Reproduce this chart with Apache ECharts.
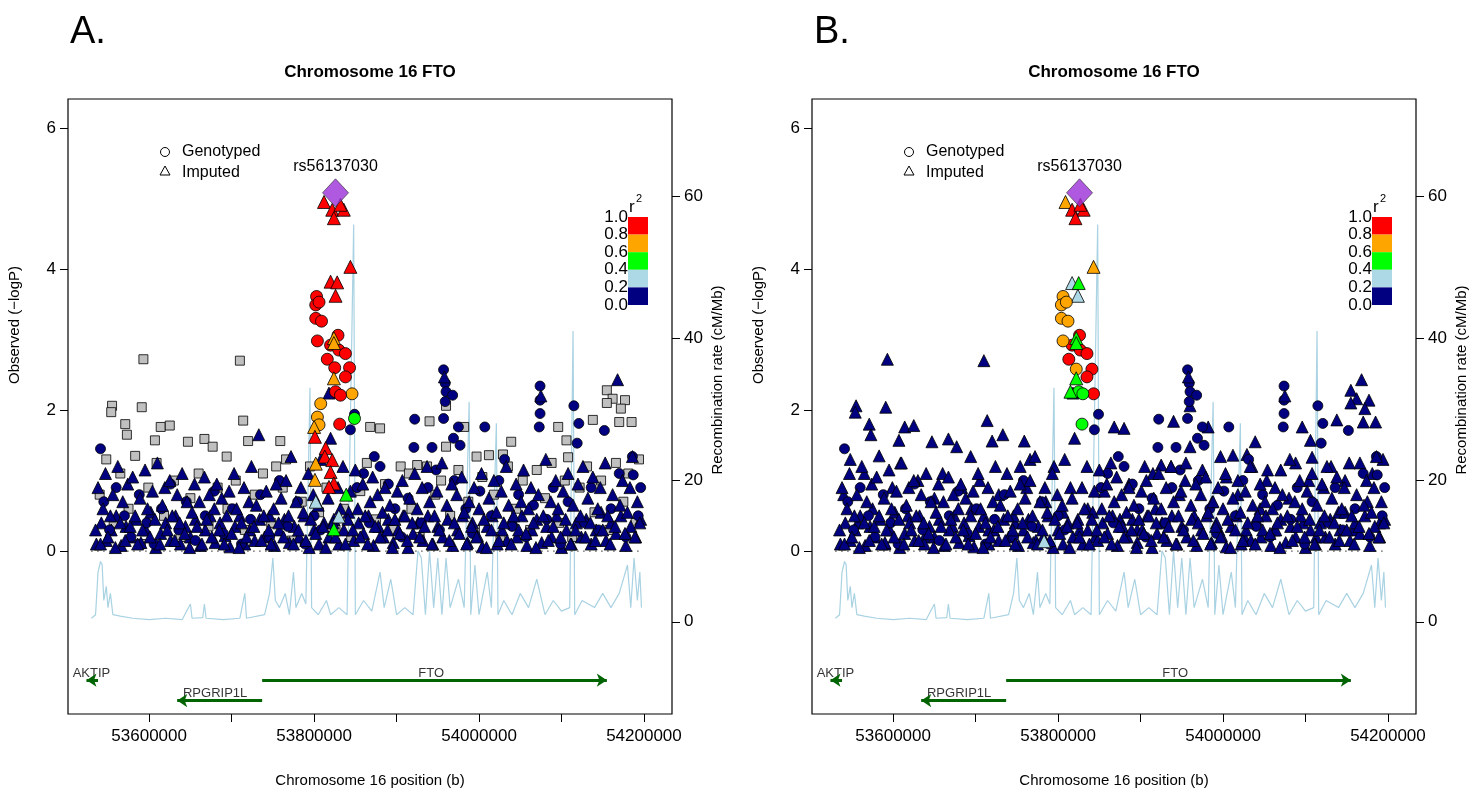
<!DOCTYPE html>
<html><head><meta charset="utf-8">
<script src="https://cdn.jsdelivr.net/npm/echarts@6/dist/echarts.min.js"></script>
<style>html,body{margin:0;padding:0;background:#fff}#c{width:1477px;height:800px}</style>
</head><body><div id="c"></div>
<script>
// positions in kb, values -log10 P
const recomb = [[53530,0.5],[53535,1],[53538,7],[53541,8.5],[53543,8],[53545,3],[53548,5],[53550,2],[53553,4],[53556,1],[53565,0.8],[53580,0.5],[53600,0.3],[53620,0.5],[53640,0.3],[53650,2.5],[53652,0.5],[53665,0.6],[53667,2.5],[53669,0.5],[53690,0.3],[53710,0.5],[53716,4],[53718,0.5],[53740,1],[53746,4],[53750,9],[53753,3],[53758,2],[53765,4],[53770,1],[53775,7],[53778,2],[53785,4],[53790,2.5],[53795,33],[53797,2],[53805,1],[53815,3],[53820,1],[53830,2],[53840,1],[53848,56],[53850,1],[53860,3],[53870,1.5],[53880,7],[53885,2],[53893,6],[53900,1],[53910,2],[53920,1],[53926,10],[53930,9],[53935,1],[53940,10],[53945,2],[53950,9],[53955,1],[53960,9],[53965,2],[53975,6],[53982,2],[53988,31],[53990,1],[53995,8],[54000,1],[54010,7],[54015,2],[54021,28],[54023,1],[54030,3],[54040,1],[54050,4],[54060,2],[54070,6],[54080,1],[54090,3],[54100,1.5],[54110,2],[54114,41],[54116,1],[54125,3],[54140,2],[54150,4],[54160,2],[54170,4],[54180,8],[54184,2],[54188,9],[54192,3],[54195,7],[54197,2]];

const navyTri = [53535,.3,53538,.9,53541,.1,53544,.6,53547,1.1,53550,.2,53553,.5,53556,.8,53559,.05,53562,1.2,53565,.4,53568,.7,53571,.15,53574,.95,53577,.35,53580,1.05,53583,.5,53586,.1,53589,.75,53592,.3,53595,1.15,53598,.6,53601,.2,53604,.85,53607,.45,53610,1.25,53613,.1,53616,.65,53619,.9,53622,.3,53625,1.0,53628,.5,53631,.15,53634,.8,53637,.4,53640,1.1,53643,.25,53646,.7,53649,.05,53652,.55,53655,.95,53658,.35,53661,.7,53664,.1,53667,1.05,53670,.45,53673,.8,53676,.2,53679,.6,53682,.95,53685,.3,53688,.75,53691,.1,53694,.5,53697,.85,53700,.25,53703,1.1,53706,.6,53709,.05,53712,.4,53715,.9,53718,.2,53721,.7,53724,1.2,53727,.35,53730,.65,53733,1.65,53736,.15,53739,.5,53742,.85,53745,.3,53748,.1,53751,.6,53754,.95,53757,.4,53760,.75,53763,.2,53766,1.0,53769,.5,53772,1.34,53775,.1,53778,.7,53781,.3,53784,.9,53787,.55,53790,.15,53793,1.1,53796,.45,53799,.8,53802,.25,53805,.65,53808,1.3,53811,.35,53814,.05,53817,.75,53818,2.24,53820,1.6,53823,.4,53826,.2,53829,.9,53832,.6,53835,1.2,53838,.1,53841,.45,53844,.85,53847,.3,53850,1.15,53853,.6,53856,.2,53859,.95,53862,.5,53865,.1,53868,.7,53871,1.05,53874,.35,53877,.8,53880,.2,53883,.55,53886,.9,53889,.3,53892,.65,53895,.05,53898,.45,53901,.85,53904,.25,53907,1.0,53910,.5,53913,.15,53916,.75,53919,.4,53922,1.1,53925,.6,53928,.2,53931,.9,53934,.35,53937,1.2,53940,.7,53943,.1,53946,.5,53949,.85,53952,.3,53955,1.25,53958,2.47,53961,.65,53964,.15,53967,.95,53970,.4,53973,.8,53976,.25,53979,1.05,53982,.55,53985,.1,53988,.7,53991,.35,53994,.9,53997,.2,54000,.6,54003,1.1,54006,.45,54009,.05,54012,.75,54015,.3,54018,1.0,54021,.55,54024,.15,54027,.85,54030,.4,54033,1.2,54036,.65,54039,.1,54042,.5,54045,.95,54048,.3,54051,.7,54054,1.15,54057,.25,54060,.6,54063,.9,54066,.4,54069,.05,54072,.8,54075,2.2,54078,.5,54081,1.3,54084,.15,54087,.7,54090,.35,54093,1.0,54096,.6,54099,.2,54102,.85,54105,.45,54108,1.1,54111,.1,54114,.65,54117,.3,54120,.95,54123,.5,54126,1.2,54129,.2,54132,.75,54135,.4,54138,1.05,54141,.15,54144,.6,54147,.9,54150,.3,54153,1.25,54156,.5,54159,.1,54162,.8,54165,.35,54168,2.43,54171,.65,54174,1.0,54177,.25,54180,.55,54183,.9,54186,1.34,54189,.2,54192,.7,54195,.4];
const navyTriLow = [53536,.1,53542,.4,53548,.15,53554,.3,53560,.5,53566,.08,53572,.35,53578,.2,53584,.45,53590,.12,53596,.3,53602,.55,53608,.05,53614,.25,53620,.4,53626,.15,53632,.5,53638,.1,53644,.35,53650,.2,53656,.45,53662,.08,53668,.3,53674,.5,53680,.12,53686,.4,53692,.22,53698,.06,53704,.35,53710,.5,53716,.1,53722,.3,53728,.15,53734,.45,53740,.2,53746,.5,53752,.08,53758,.3,53764,.45,53770,.12,53776,.35,53782,.2,53788,.5,53794,.05,53800,.3,53806,.1,53812,.4,53818,.2,53824,.45,53830,.1,53836,.3,53842,.55,53848,.15,53854,.4,53860,.25,53866,.5,53872,.08,53878,.35,53884,.2,53890,.45,53896,.12,53902,.3,53908,.5,53914,.05,53920,.25,53926,.4,53932,.15,53938,.5,53944,.1,53950,.35,53956,.2,53962,.45,53968,.08,53974,.3,53980,.5,53986,.12,53992,.4,53998,.22,54004,.06,54010,.35,54016,.5,54022,.1,54028,.3,54034,.15,54040,.45,54046,.2,54052,.5,54058,.08,54064,.3,54070,.45,54076,.12,54082,.35,54088,.2,54094,.5,54100,.05,54106,.3,54112,.1,54118,.4,54124,.2,54130,.45,54136,.1,54142,.3,54148,.55,54154,.15,54160,.4,54166,.25,54172,.5,54178,.08,54184,.35,54190,.2,54196,.45];
const navyCir = [53541,1.45,53545,.7,53552,.3,53560,.9,53570,.5,53578,.2,53588,.8,53597,.4,53606,.1,53615,.6,53626,.95,53636,.3,53645,.7,53656,.15,53668,.5,53679,.85,53690,.25,53701,.6,53712,.1,53723,.45,53735,.8,53746,.2,53758,1.0,53768,.35,53780,.7,53789,.1,53800,.5,53808,.3,53844,1.72,53849,1.94,53852,.9,53860,1.1,53867,.4,53873,1.34,53880,1.2,53890,.95,53898,.6,53906,.2,53914,.75,53922,1.87,53921,1.47,53930,.4,53938,.9,53943,1.47,53948,1.15,53952,.3,53957,2.57,53959,2.38,53960,2.26,53959,2.12,53968,2.21,53957,1.88,53969,1.6,53977,1.5,53975,1.76,53970,1.0,53984,.6,53992,.25,54001,.85,54007,1.76,54015,.5,54024,1.0,54031,1.3,54040,.35,54048,.8,54057,.2,54066,.65,54074,2.34,54074,2.14,54074,1.95,54073,1.76,54082,.45,54090,.9,54099,.1,54108,.7,54115,2.06,54121,1.81,54119,1.53,54128,.4,54136,.9,54145,.3,54152,1.71,54160,.6,54170,1.1,54178,.2,54186,1.34,54187,1.08,54193,.5,54196,.9];
const greySq = [53593,2.72,53710,2.70,53555,2.06,53554,1.97,53591,2.04,53714,1.85,53614,1.76,54155,2.28,54162,2.16,54177,2.14,54172,2.02,54155,2.1,53940,1.84,53960,2.06,53982,1.76,53868,1.76,53880,1.74,54138,1.86,54185,1.83,54096,1.76,53625,1.78,53571,1.80,53573,1.65,53607,1.57,53647,1.55,53667,1.59,53677,1.48,53694,1.34,53720,1.56,53759,1.56,53754,1.2,53766,1.3,53925,1.22,53937,1.2,53960,1.48,53997,1.34,54012,1.36,54039,1.55,54029,1.37,54106,1.57,54108,1.33,54170,1.83,53540,.8,53548,1.3,53557,.4,53565,1.1,53575,.6,53583,1.35,53590,.1,53599,.9,53609,1.25,53618,.5,53630,1.0,53638,.2,53650,.75,53660,1.1,53672,.35,53683,.9,53695,.6,53705,1.0,53716,.3,53728,.8,53738,1.1,53748,.4,53762,.9,53773,.15,53785,.7,53795,1.2,53806,.55,53815,.9,53826,.3,53836,.6,53845,.2,53856,.85,53864,1.25,53875,.45,53886,.95,53896,.3,53905,1.2,53915,1.1,53918,.6,53928,.2,53947,.8,53954,1.0,53965,.5,53975,1.15,53987,.7,53995,.3,54004,1.05,54018,.8,54026,.2,54035,1.2,54045,.6,54053,1.0,54062,.3,54070,1.15,54080,.75,54088,1.25,54097,.4,54104,1.0,54113,.2,54122,.9,54131,1.2,54140,.55,54148,1.0,54158,.3,54166,1.25,54175,.7,54181,1.1,54190,.4,54194,1.3];

const leadSnp = [53826, 5.08];
const leadName = 'rs56137030';

const aRedTri = [53812,4.95,53822,4.84,53836,4.84,53824,4.72,53832,4.91,53844,4.03,53820,3.82,53828,3.81,53826,3.62,53801,1.62,53814,1.46,53813,1.34,53822,1.29,53820,1.12,53824,.96,53818,.91];
const aRedCir = [53803,3.61,53802,3.49,53806,3.53,53802,3.30,53809,3.26,53804,2.98,53829,3.06,53820,2.92,53830,2.85,53838,2.80,53816,2.72,53825,2.60,53843,2.60,53838,2.47,53826,2.26,53832,2.21,53831,1.80];
const aOrgTri = [53824,3.02,53824,2.95,53824,2.45,53800,1.76,53802,1.24,53801,1.01];
const aOrgCir = [53846,2.23,53808,2.09,53804,1.90,53806,1.79];
const aGrnTri = [53839,.80,53824,.31];
const aGrnCir = [53849,1.88];
const aLbTri = [53802,.70,53830,.49];

const bRedTri = [53817,4.84,53831,4.84,53821,4.72,53827,4.91];
const bOrgTri = [53809,4.95,53843,4.03];
const bLbTri = [53817,3.80,53824,3.62,53783,.14];
const bGrnTri = [53825,3.80,53822,3.02,53822,2.95,53822,2.45,53815,2.26];
const bOrgCir = [53806,3.61,53804,3.49,53810,3.53,53804,3.30,53812,3.26,53806,2.98,53822,2.58];
const bRedCir = [53826,3.06,53817,2.92,53827,2.85,53835,2.80,53813,2.72,53841,2.58,53835,2.47,53843,2.23];
const bGrnCir = [53825,2.26,53830,2.23,53829,1.80];

const genes = [{name:'AKTIP',start:53524,end:53538,strand:-1,row:0,labelAt:53530},
               {name:'FTO',start:53737,end:54155,strand:1,row:0,labelAt:53942},
               {name:'RPGRIP1L',start:53634,end:53737,strand:-1,row:1,labelAt:53680}];
const geneRowY = [-1.83,-2.12];
const yTicks = [0,2,4,6];
const rTicks = [0,20,40,60];
const xTicks = [53600000,53700000,53800000,53900000,54000000,54100000,54200000];
const xLabels = [53600000,53800000,54000000,54200000];
const r2Levels = ['1.0','0.8','0.6','0.4','0.2','0.0'];
const r2Colors = ['#ff0000','#ffa500','#00ff00','#add8e6','#000080'];

const pairs = a => { const o=[]; for(let i=0;i<a.length;i+=2) o.push([a[i]*1000,a[i+1]]); return o; };
const FONT = 'Liberation Sans';
const COL = {navy:'#000080',grey:'#c0c0c0',red:'#ff0000',org:'#ffa500',grn:'#00ff00',lb:'#add8e6'};

function sc(xi, yi, data, sym, color, size, z){
  return {type:'scatter',xAxisIndex:xi,yAxisIndex:yi,data:pairs(data),symbol:sym,symbolSize:size,
    itemStyle:{color:color,borderColor:'#000',borderWidth:0.8,opacity:1},z:z||2,silent:true,animation:false};
}
const gridLeft=[68,812];
const grids=[],xAxes=[],yAxes=[],series=[];
[0,1].forEach(p=>{
  grids.push({left:gridLeft[p],top:99,width:604,height:615,show:true,borderColor:'#000',borderWidth:1.2,backgroundColor:'transparent'});
  xAxes.push({type:'value',gridIndex:p,position:'bottom',min:53501580,max:54234000,splitLine:{show:false},
    axisLine:{show:false,onZero:false},
    axisTick:{show:true,length:8,lineStyle:{color:'#000'},customValues:xTicks},
    axisLabel:{show:true,fontFamily:FONT,fontSize:17,color:'#000',margin:14,customValues:xLabels,formatter:v=>String(v)}});
  yAxes.push({type:'value',gridIndex:p,position:'left',min:-2.31,max:6.41,splitLine:{show:false},axisLine:{show:false,onZero:false},
    axisTick:{show:true,length:8,lineStyle:{color:'#000'},customValues:yTicks},
    axisLabel:{fontFamily:FONT,fontSize:17,color:'#000',margin:12,customValues:yTicks}});
  yAxes.push({type:'value',gridIndex:p,position:'right',min:-13.0,max:73.7,splitLine:{show:false},axisLine:{show:false,onZero:false},
    axisTick:{show:true,length:8,lineStyle:{color:'#000'},customValues:rTicks},
    axisLabel:{fontFamily:FONT,fontSize:17,color:'#000',margin:12,customValues:rTicks}});
  const yl=p*2, yr=p*2+1;
  series.push({type:'line',xAxisIndex:p,yAxisIndex:yr,data:recomb.map(d=>[d[0]*1000,d[1]]),symbol:'none',
    lineStyle:{color:'#a9d2e3',width:1.2},z:1,silent:true,animation:false});
  series.push({type:'line',xAxisIndex:p,yAxisIndex:yl,data:[[53530000,0],[54197000,0]],symbol:'none',
    lineStyle:{color:'#000',width:1.2,type:[1,5]},z:1,silent:true,animation:false,
    markLine:{silent:true,animation:false,symbol:['none','arrow'],symbolSize:10,label:{show:false},
      data:genes.map(g=>{const a=g.strand>0?g.start:g.end,b=g.strand>0?g.end:g.start;const y=geneRowY[g.row];
        return [{coord:[a*1000,y]},{coord:[b*1000,y]}];}),
      lineStyle:{color:'#006400',width:3,type:'solid'}}});
  series.push({type:'scatter',xAxisIndex:p,yAxisIndex:yl,symbolSize:0,silent:true,animation:false,
    data:genes.map(g=>({value:[g.labelAt*1000,geneRowY[g.row]+0.1],name:g.name})),
    label:{show:true,position:'inside',formatter:'{b}',fontFamily:FONT,fontSize:13,color:'#000'}});
  if(p===0){
    series.push(sc(p,yl,greySq,'rect',COL.grey,9,2));
  } else {
    series.push(sc(p,yl,greySq,'triangle',COL.navy,12,2));
  }
  series.push(sc(p,yl,navyTriLow,'triangle',COL.navy,12,3));
  series.push(sc(p,yl,navyCir,'circle',COL.navy,10,3));
  series.push(sc(p,yl,navyTri,'triangle',COL.navy,12,3));
  const sets = p===0 ? [[aLbTri,'triangle',COL.lb],[aGrnTri,'triangle',COL.grn],[aGrnCir,'circle',COL.grn],[aOrgCir,'circle',COL.org],[aRedCir,'circle',COL.red],[aOrgTri,'triangle',COL.org],[aRedTri,'triangle',COL.red]]
                     : [[bLbTri,'triangle',COL.lb],[bRedCir,'circle',COL.red],[bOrgCir,'circle',COL.org],[bGrnCir,'circle',COL.grn],[bGrnTri,'triangle',COL.grn],[bOrgTri,'triangle',COL.org],[bRedTri,'triangle',COL.red]];
  sets.forEach((s,i)=>series.push(sc(p,yl,s[0],s[1],s[2],s[1]==='circle'?12:13,5+i)));
  series.push({type:'scatter',xAxisIndex:p,yAxisIndex:yl,data:[{value:[leadSnp[0]*1000,leadSnp[1]],name:leadName}],
    symbol:'diamond',symbolSize:[26,28],itemStyle:{color:'#9b30d9',borderColor:'#333',borderWidth:0.8},z:20,silent:true,animation:false,
    label:{show:true,position:'top',distance:4,formatter:'{b}',fontFamily:FONT,fontSize:16,color:'#000',opacity:1}});
});

const graphic=[];
[0,1].forEach(p=>{
  const L=gridLeft[p];
  graphic.push({type:'text',left:L+2,top:14,style:{text:p?'B.':'A.',font:'38px '+FONT,fill:'#000'}});
  graphic.push({type:'text',x:L+302,y:72,style:{text:'Chromosome 16 FTO',font:'bold 17px '+FONT,fill:'#000',align:'center',verticalAlign:'middle'}});
  graphic.push({type:'text',x:L+302,y:781,style:{text:'Chromosome 16 position (b)',font:'15px '+FONT,fill:'#000',align:'center',verticalAlign:'middle'}});
  graphic.push({type:'text',x:L-53,y:325,rotation:Math.PI/2,style:{text:'Observed (\u2212logP)',font:'15px '+FONT,fill:'#000',align:'center',verticalAlign:'middle'}});
  graphic.push({type:'text',x:L+650,y:380,rotation:Math.PI/2,style:{text:'Recombination rate (cM/Mb)',font:'15px '+FONT,fill:'#000',align:'center',verticalAlign:'middle'}});
  graphic.push({type:'text',x:L+114,y:152,style:{text:'Genotyped',font:'16px '+FONT,fill:'#000',verticalAlign:'middle'}});
  graphic.push({type:'text',x:L+114,y:173,style:{text:'Imputed',font:'16px '+FONT,fill:'#000',verticalAlign:'middle'}});
  graphic.push({type:'circle',shape:{cx:L+97,cy:152,r:4.5},style:{fill:'none',stroke:'#000',lineWidth:1}});
  graphic.push({type:'polygon',shape:{points:[[L+97,166],[L+92,175],[L+102,175]]},style:{fill:'none',stroke:'#000',lineWidth:1}});
  r2Colors.forEach((c,i)=>graphic.push({type:'rect',shape:{x:L+560,y:217+i*17.6,width:20,height:17.6},style:{fill:c}}));
  r2Levels.forEach((t,i)=>graphic.push({type:'text',x:L+560,y:217+i*17.6,style:{text:t,font:'17px '+FONT,fill:'#000',align:'right',verticalAlign:'middle'}}));
  graphic.push({type:'text',x:L+561,y:207,style:{text:'r',font:'17px '+FONT,fill:'#000',verticalAlign:'middle'}});
  graphic.push({type:'text',x:L+568,y:199,style:{text:'2',font:'11px '+FONT,fill:'#000',verticalAlign:'middle'}});
});

const chart=echarts.init(document.getElementById('c'),null,{renderer:'canvas'});
chart.setOption({animation:false,grid:grids,xAxis:xAxes,yAxis:yAxes,series:series,graphic:graphic});
</script></body></html>
